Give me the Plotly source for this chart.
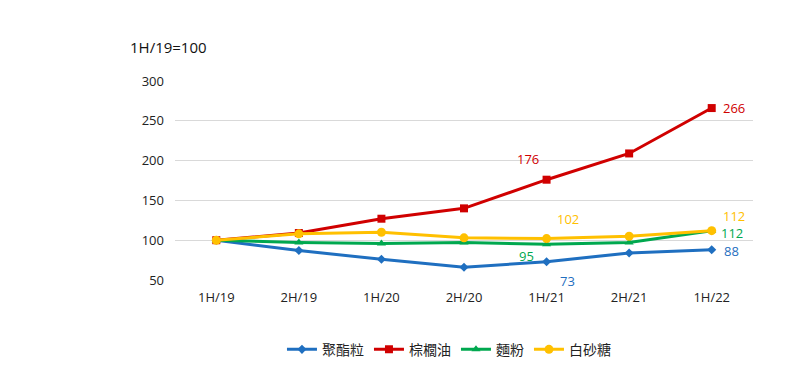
import plotly.graph_objects as go

periods = ["1H/19", "2H/19", "1H/20", "2H/20", "1H/21", "2H/21", "1H/22"]
polyester = [100, 87, 76, 66, 73, 84, 88]
palm_oil = [100, 109, 127, 140, 176, 209, 266]
flour = [100, 97, 96, 97, 95, 97, 112]
sugar = [100, 108, 110, 103, 102, 105, 112]

names = ["聚酯粒", "棕櫚油", "麵粉", "白砂糖"]
colors = ["#1F6FC0", "#D00000", "#00A84F", "#FFC000"]
symbols = ["diamond", "square", "triangle-up", "circle"]
sizes = [7, 8, 8, 9]
series = [polyester, palm_oil, flour, sugar]

font_main = "Open Sans, Noto Sans CJK TC, sans-serif"

fig = go.Figure()
for name, vals, c, s, sz in zip(names, series, colors, symbols, sizes):
    fig.add_trace(go.Scatter(
        x=periods, y=vals, name=name, mode="lines+markers",
        line=dict(color=c, width=3),
        marker=dict(symbol=s, size=sz, color=c),
    ))

# data labels: (series index, point index, x shift, y shift)
labels = [
    (1, 4, -19, 21), (1, 6, 22, 0),
    (3, 4, 21, 20), (3, 6, 22, 15),
    (2, 4, -20, -12), (2, 6, 20, -2),
    (0, 4, 21, -19), (0, 6, 20, -1),
]
for si, pi, dx, dy in labels:
    fig.add_annotation(
        x=periods[pi], y=series[si][pi], xref="x", yref="y",
        text=str(series[si][pi]), showarrow=False,
        xshift=dx, yshift=dy, height=14, borderpad=0,
        font=dict(color=colors[si], size=13, family=font_main),
    )

fig.add_annotation(
    text="1H/19=100", showarrow=False, xref="paper", yref="paper",
    x=(128 - 175) / 578, y=(280 - 47) / 199,
    xanchor="left", yanchor="middle",
    font=dict(size=15, family=font_main, color="#111111"),
)

fig.update_layout(
    width=800, height=372,
    margin=dict(l=167, r=55, t=73, b=100, autoexpand=False),
    paper_bgcolor="white", plot_bgcolor="white",
    font=dict(family=font_main, size=13, color="#222222"),
    xaxis=dict(
        type="category", range=[-0.5, 6.5], showgrid=False, showline=False,
        ticks="", tickfont=dict(size=13), ticklabelstandoff=8, automargin=False,
    ),
    yaxis=dict(
        range=[50, 300], tickvals=[50, 100, 150, 200, 250, 300],
        showgrid=True, gridcolor="#D9D9D9", gridwidth=1, zeroline=False,
        showline=False, ticks="", tickfont=dict(size=13), ticklabelstandoff=10,
        automargin=False,
    ),
    legend=dict(
        orientation="h", x=0.474, xanchor="center", y=-0.27, yanchor="top",
        font=dict(size=14, family="Noto Sans CJK TC, sans-serif"),
    ),
    showlegend=True,
)

fig.write_html("out.html")
